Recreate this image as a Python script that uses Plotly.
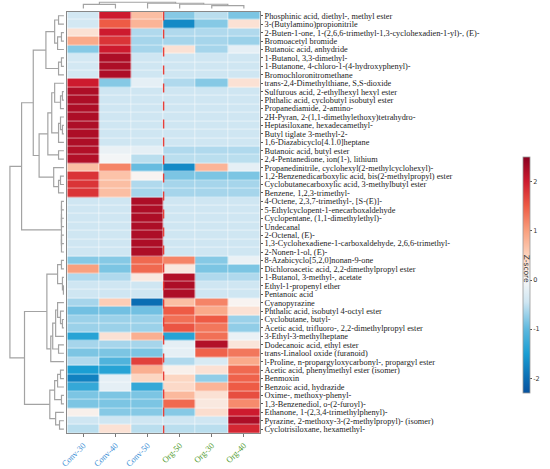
import plotly.graph_objects as go

# Columnas (muestras) y colores de etiqueta
samples = ["Conv-30", "Conv-40", "Conv-50", "Org-50", "Org-30", "Org-40"]
sample_colors = ["#3d8fd6", "#3d8fd6", "#3d8fd6", "#4f9a2d", "#4f9a2d", "#4f9a2d"]
n_conv = 3

compounds = [
    "Phosphinic acid, diethyl-, methyl ester",
    "3-(Butylamino)propionitrile",
    "2-Buten-1-one, 1-(2,6,6-trimethyl-1,3-cyclohexadien-1-yl)-, (E)-",
    "Bromoacetyl bromide",
    "Butanoic acid, anhydride",
    "1-Butanol, 3,3-dimethyl-",
    "1-Butanone, 4-chloro-1-(4-hydroxyphenyl)-",
    "Bromochloronitromethane",
    "trans-2,4-Dimethylthiane, S,S-dioxide",
    "Sulfurous acid, 2-ethylhexyl hexyl ester",
    "Phthalic acid, cyclobutyl isobutyl ester",
    "Propanediamide, 2-amino-",
    "2H-Pyran, 2-(1,1-dimethylethoxy)tetrahydro-",
    "Heptasiloxane, hexadecamethyl-",
    "Butyl tiglate 3-methyl-2-",
    "1,6-Diazabicyclo[4.1.0]heptane",
    "Butanoic acid, butyl ester",
    "2,4-Pentanedione, ion(1-), lithium",
    "Propanedinitrile, cyclohexyl(2-methylcyclohexyl)-",
    "1,2-Benzenedicarboxylic acid, bis(2-methylpropyl) ester",
    "Cyclobutanecarboxylic acid, 3-methylbutyl ester",
    "Benzene, 1,2,3-trimethyl-",
    "4-Octene, 2,3,7-trimethyl-, [S-(E)]-",
    "5-Ethylcyclopent-1-enecarboxaldehyde",
    "Cyclopentane, (1,1-dimethylethyl)-",
    "Undecanal",
    "2-Octenal, (E)-",
    "1,3-Cyclohexadiene-1-carboxaldehyde, 2,6,6-trimethyl-",
    "2-Nonen-1-ol, (E)-",
    "8-Azabicyclo[5,2,0]nonan-9-one",
    "Dichloroacetic acid, 2,2-dimethylpropyl ester",
    "1-Butanol, 3-methyl-, acetate",
    "Ethyl-1-propenyl ether",
    "Pentanoic acid",
    "Cyanopyrazine",
    "Phthalic acid, isobutyl 4-octyl ester",
    "Cyclobutane, butyl-",
    "Acetic acid, trifluoro-, 2,2-dimethylpropyl ester",
    "3-Ethyl-3-methylheptane",
    "Dodecanoic acid, ethyl ester",
    "trans-Linalool oxide (furanoid)",
    "l-Proline, n-propargyloxycarbonyl-, propargyl ester",
    "Acetic acid, phenylmethyl ester (isomer)",
    "Benmoxin",
    "Benzoic acid, hydrazide",
    "Oxime-, methoxy-phenyl-",
    "1,3-Benzenediol, o-(2-furoyl)-",
    "Ethanone, 1-(2,3,4-trimethylphenyl)-",
    "Pyrazine, 2-methoxy-3-(2-methylpropyl)- (isomer)",
    "Cyclotrisiloxane, hexamethyl-",
]

# Z-score por columna (orden de filas = compounds)
conv30 = [-0.40, -0.40, 0.30, 0.90, -0.80, -0.40, -0.40, -0.40, 2.00, 2.24,
          2.24, 2.24, 2.24, 2.24, 2.24, 2.24, 2.20, 2.20, 0.70, 1.80,
          1.80, 1.80, -0.45, -0.45, -0.45, -0.45, -0.45, -0.45, -0.45, -0.80,
          1.00, -0.60, -0.45, -0.45, -0.65, -0.90, -0.70, -0.70, -1.40, -0.65,
          -0.85, -0.60, -1.50, -1.80, -1.30, -0.85, -0.85, 0.10, -0.45, -0.55]
conv40 = [2.00, 1.50, 2.00, 1.80, 2.00, 2.24, 2.24, 2.24, -0.80, -0.45,
          -0.45, -0.45, -0.45, -0.45, -0.45, -0.45, -0.15, -0.05, 1.20, 0.65,
          0.70, 0.70, -0.45, -0.45, -0.45, -0.45, -0.45, -0.45, -0.45, -0.80,
          -0.85, -0.60, -0.45, -0.45, 0.55, -0.90, -0.70, -0.70, 0.30, -0.65,
          -0.85, -1.10, -1.40, -0.20, -0.20, -0.85, -0.85, -0.80, -0.45, 0.30]
conv50 = [0.70, 0.80, -0.60, -0.65, -0.65, -0.45, -0.45, -0.45, -0.20, -0.45,
          -0.45, -0.45, -0.45, -0.45, -0.45, -0.45, -0.20, -0.55, -0.95, 0.05,
          -0.60, -0.65, 2.24, 2.24, 2.24, 2.24, 2.24, 2.24, 2.24, 1.40,
          1.40, 0.20, -0.45, -0.45, -2.00, -0.90, -0.70, -0.70, 0.85, -0.65,
          -0.85, 1.70, 0.85, 0.45, -1.30, -0.85, -0.85, -0.80, -0.45, -0.55]
org50 = [-0.80, -1.70, -0.60, -0.65, 0.30, -0.45, -0.45, -0.45, -0.60, -0.45,
         -0.45, -0.45, -0.45, -0.45, -0.45, -0.45, -0.60, -0.55, -1.70, -0.85,
         -0.65, -0.65, -0.45, -0.45, -0.45, -0.45, -0.45, -0.45, -0.45, 1.20,
         0.20, 2.20, 2.24, 2.24, 0.70, 1.50, 1.35, 1.55, -1.40, -0.20,
         -0.20, -0.60, 0.10, 0.45, 0.40, 0.75, 1.40, -0.80, -0.45, -0.55]
org30 = [-0.55, -0.80, -0.60, -0.65, -0.65, -0.45, -0.45, -0.45, -0.80, -0.45,
         -0.45, -0.45, -0.45, -0.45, -0.45, -0.45, -0.60, -0.55, 0.80, -0.85,
         -0.65, -0.65, -0.45, -0.45, -0.45, -0.45, -0.45, -0.45, -0.45, -0.80,
         -0.85, -0.60, -0.45, -0.45, 1.20, 0.90, 1.50, 1.30, 1.35, 2.20,
         1.45, -0.35, 0.30, -0.75, 0.80, 0.30, 0.20, 0.35, -0.45, -0.55]
org40 = [-0.85, 0.30, -0.60, -0.70, -0.20, -0.45, -0.45, -0.45, 0.30, -0.45,
         -0.45, -0.45, -0.45, -0.45, -0.45, -0.45, -0.60, -0.55, -0.20, -0.85,
         -0.65, -0.65, -0.45, -0.45, -0.45, -0.45, -0.45, -0.45, -0.45, -0.15,
         -0.85, -0.60, -0.45, -0.45, 0.05, 0.30, -0.70, -0.75, -0.15, 0.25,
         1.30, 0.90, 1.40, 1.45, 1.50, 1.60, 1.15, 2.00, 2.24, 1.90]

# Arbol de filas: (nodo, izquierda, derecha, altura)
row_tree = [
    ("a1", 0, 1, 5.5), ("a2", 2, 3, 2.5), ("a3", "a2", 4, 6.5), ("a4", "a1", "a3", 9.5),
    ("a5", 5, 6, 2.5), ("a6", "a5", 7, 5.5), ("a7", "a4", "a6", 18.5),
    ("b1", 9, 10, 1.5), ("b2", "b1", 11, 3.5), ("b3", 8, "b2", 9.5),
    ("b4", 13, 14, 1.5), ("b5", 12, "b4", 3.5), ("b6", "b5", 15, 5.5),
    ("b7", "b3", "b6", 12.5), ("b8", 16, 17, 5.5), ("b9", "b7", "b8", 16.5),
    ("c1", 19, 20, 3.5), ("c2", "c1", 21, 5.5), ("c3", 18, "c2", 10.5),
    ("c4", "b9", "c3", 25.5), ("a8", "a7", "c4", 31.5),
    ("e1", 22, 23, 2.5), ("e2", 24, 25, 2.5), ("e3", 26, 27, 2.5),
    ("e4", "e1", "e2", 2.5), ("e5", "e3", 28, 2.5), ("e6", "e4", "e5", 2.5),
    ("A", "a8", "e6", 43.5),
    ("p1", 29, 30, 2.5), ("p2", 32, 33, 0.5), ("p3", 31, "p2", 1.5), ("p4", "p1", "p3", 6.5),
    ("q1", 36, 37, 1.5), ("q2", 35, "q1", 3.5), ("q3", 34, "q2", 6.5), ("q4", "q3", 38, 8.5),
    ("q5", 39, 40, 5.5), ("q6", "q4", "q5", 11.5), ("q7", "q6", 41, 13.5),
    ("B1", "p4", "q7", 17.5),
    ("r1", 42, 43, 3.5), ("r2", "r1", 44, 6.5), ("r3", 45, 46, 2.5), ("r4", "r2", "r3", 9.5),
    ("r5", 48, 49, 4.5), ("r6", 47, "r5", 8.5), ("B2", "r4", "r6", 14.5),
    ("B", "B1", "B2", 40.5),
    ("root", "A", "B", 55.5),
]

# Arbol de columnas
col_tree = [
    ("n1", 0, 1, 4.0), ("n2", 4, 5, 2.8), ("n3", 3, "n2", 4.2),
    ("n4", 2, "n3", 5.2), ("root", "n1", "n4", 6.2),
]

# Escala de color
zmin, zmax = -2.3, 2.5
cs_vals = [-2.3, -2.0, -1.5, -1.0, -0.45, 0.0, 0.5, 1.0, 1.5, 2.0, 2.5]
cs_colors = ["#08529e", "#0b6db3", "#1a9ed3", "#5db8de", "#cfe6f2", "#f7f7f7",
             "#fdd2bc", "#f9a07e", "#ee5b45", "#cd1a2e", "#8a0020"]
colorscale = [[(v - zmin) / (zmax - zmin), c] for v, c in zip(cs_vals, cs_colors)]


def dendro_lines(tree):
    pos = {}
    xs, ys = [], []
    for name, left, right, h in tree:
        pl = pos.get(left, (left, 0.0))
        pr = pos.get(right, (right, 0.0))
        xs += [pl[1], h, h, pr[1], None]
        ys += [pl[0], pl[0], pr[0], pr[0], None]
        pos[name] = ((pl[0] + pr[0]) / 2, h)
    return xs, ys


z = [list(r) for r in zip(conv30, conv40, conv50, org50, org30, org40)]
n_rows = len(compounds)

W, H = 550, 469
hm_x = [62 / W, 260 / W]
hm_y = [1 - 439 / H, 1 - 11.7 / H]

fig = go.Figure()

fig.add_trace(go.Heatmap(
    z=z, x=list(range(len(samples))), y=list(range(n_rows)),
    colorscale=colorscale, zmin=zmin, zmax=zmax,
    xgap=0.5, ygap=0.5, hoverinfo="skip",
    colorbar=dict(
        x=520 / W, xanchor="left", y=1 - 149 / H, yanchor="top",
        len=(408 - 149) / H, lenmode="fraction", thickness=7,
        outlinecolor="#999", outlinewidth=0.8,
        tickvals=[-2, -1, 0, 1, 2], ticktext=["-2", "-1", "0", "1", "2"],
        ticks="outside", ticklen=2, tickcolor="#555",
        tickfont=dict(family="DejaVu Sans", size=6.5, color="#333"),
    ),
))

# Dendrograma de filas
rx, ry = dendro_lines(row_tree)
fig.add_trace(go.Scatter(x=rx, y=ry, mode="lines", xaxis="x2", yaxis="y2",
                         line=dict(color="#a3a3a3", width=1.2), hoverinfo="skip"))

# Dendrograma de columnas
cx, cy = dendro_lines(col_tree)
fig.add_trace(go.Scatter(x=cy, y=cx, mode="lines", xaxis="x3", yaxis="y3",
                         line=dict(color="#a3a3a3", width=1.2), hoverinfo="skip"))

ticktext = [f'<span style="color:{c}">{s}</span>' for s, c in zip(samples, sample_colors)]

fig.update_layout(
    width=W, height=H, autosize=False,
    margin=dict(l=0, r=0, t=0, b=0),
    paper_bgcolor="white", plot_bgcolor="white",
    showlegend=False,
    xaxis=dict(domain=hm_x, range=[-0.5, len(samples) - 0.5],
               tickvals=list(range(len(samples))), ticktext=ticktext,
               tickangle=-45, ticks="outside", ticklen=3, tickcolor="#777",
               tickfont=dict(family="Liberation Serif", size=8.5),
               showgrid=False, zeroline=False,
               showline=True, mirror=True, linecolor="#888", linewidth=1),
    yaxis=dict(domain=hm_y, range=[n_rows - 0.5, -0.5], side="right",
               tickvals=list(range(n_rows)), ticktext=compounds,
               ticks="outside", ticklen=2, tickcolor="#555", tickwidth=0.6,
               tickfont=dict(family="Liberation Serif", size=8.3, color="#222"),
               showgrid=False, zeroline=False,
               showline=True, mirror=True, linecolor="#888", linewidth=1),
    xaxis2=dict(domain=[0, 60 / W], range=[58.5, -1.5], visible=False),
    yaxis2=dict(domain=hm_y, range=[n_rows - 0.5, -0.5], visible=False),
    xaxis3=dict(domain=hm_x, range=[-0.5, len(samples) - 0.5], visible=False),
    yaxis3=dict(domain=[1 - 10 / H, 1 - 0.5 / H], range=[-1.5, 8], visible=False),
)

# Linea divisoria Conv / Org
fig.add_shape(type="line", xref="x", yref="y", layer="above",
              x0=n_conv - 0.5, x1=n_conv - 0.5, y0=-0.5, y1=n_rows - 0.5,
              line=dict(color="#e8403a", width=1.4, dash="dash"))

fig.add_annotation(text="Z-score", x=541 / W, y=1 - 272 / H, xref="paper", yref="paper",
                   textangle=90, showarrow=False,
                   font=dict(family="DejaVu Sans", size=7.5, color="#333"))

fig.write_html("out.html", config={"displayModeBar": False},
               post_script="document.body.style.margin='0px';")
